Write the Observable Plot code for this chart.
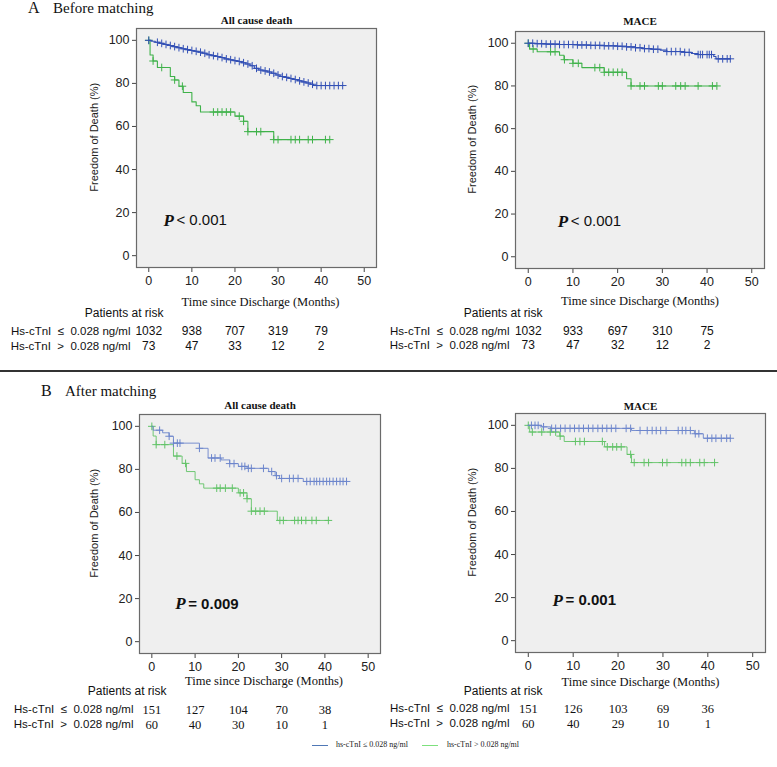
<!DOCTYPE html>
<html>
<head>
<meta charset="utf-8">
<script src="https://cdn.jsdelivr.net/npm/d3@7"></script>
<script src="https://cdn.jsdelivr.net/npm/@observablehq/plot@0.6"></script>
<style>
  body { margin: 0; background: #fff; }
  #root { position: relative; width: 777px; height: 767px; overflow: hidden; background: #fff; }
  .abs { position: absolute; }
  .hdr { font-family: 'Liberation Serif', 'Times New Roman', serif; font-size: 15px; line-height: 16px; color: #111; white-space: nowrap; }
  .leg { font-family: 'Liberation Serif', 'Times New Roman', serif; font-size: 8px; line-height: 10px; color: #222; white-space: nowrap; }
</style>
</head>
<body>
<div id="root"></div>
<script>
// ---------- tick labels ----------
const xTicks = [0, 10, 20, 30, 40, 50];
const yTicks = [0, 20, 40, 60, 80, 100];
const riskTimes = [0, 10, 20, 30, 40];
const groupLabels = ["Hs-cTnI  \u2264  0.028 ng/ml", "Hs-cTnI  >  0.028 ng/ml"];
const legendLabels = ["hs-cTnI \u2264 0.028 ng/ml", "hs-cTnI > 0.028 ng/ml"];
const panelTitles = ["All cause death", "MACE", "All cause death", "MACE"];
const sectionLabels = [["A", "Before matching"], ["B", "After matching"]];
const pValues = ["< 0.001", "< 0.001", "= 0.009", "= 0.001"];

// ---------- A: before matching, all cause death ----------
const aDeathLowT = [0,0.5,1.5,2.5,3.5,4.5,5.5,6.5,7.5,8.5,9.5,10.5,11.5,12.5,13.5,14.5,15.5,16.5,17.5,18.5,19.5,20.5,21.5,22.5,23.5,24.5,25.5,26.5,27.5,28.5,29.5,30.5,31.5,32.5,33.5,34.5,35.5,36.5,37.5,38.2,45.2];
const aDeathLowS = [100,99.6,99.1,98.6,98.1,97.6,97.1,96.6,96.1,95.7,95.3,94.9,94.5,94.0,93.3,92.9,92.5,92.0,91.4,91.0,90.6,90.2,89.6,89.0,88.2,87.0,86.2,85.8,85.3,84.7,83.9,83.2,82.8,82.3,81.8,81.2,80.7,80.2,79.6,79.0,79.0];
const aDeathLowC = [0,2,3,4,5,6,7,8,9,10,11,12,13,14,15,16,17,18,19,20,21,22,23,24,25,26,27,28,29,30,31,32,33,34,35,36,37,38,39,40,41,42,43,44,45];
const aDeathHighT = [0,0.3,1,2,5,6,7,8,10,11,12,20,22,23,29,42];
const aDeathHighS = [100,93.2,90.4,87.4,83.2,81.6,78.7,75.8,71.4,69.6,66.7,64.8,62.4,57.6,53.9,53.9];
const aDeathHighC = [0,1,3,6,7.8,15,16,17,18,19,21,22,23,25,26,29,30,33,34,35,37,38,41,42];

// ---------- A: before matching, MACE ----------
const aMaceLowT = [0,1.5,4,7,11,14,17,20,22,24,25.5,27.5,29.5,31,35,36.5,38,41.5,42,45.2];
const aMaceLowS = [100,99.8,99.6,99.4,99.2,99.0,98.8,98.6,98.3,97.9,97.5,97.2,96.8,96.1,95.7,95.2,94.7,93.8,92.7,92.7];
const aMaceLowC = [0,1,2,3,4,5,6,7,8,9,10,11,12,13,14,15,16,17,18,19,20,21,22,23,24,25,26,27,28,29,31,32,33,34,35,36,38,38.5,39,40,40.5,41,42.5,43.5,44.5,45.2];
const aMaceHighT = [0,0.3,2,7,8,10,12,17,22,23,42];
const aMaceHighS = [100,97.3,96.0,94.4,92.3,90.6,88.6,86.4,83.4,80.0,80.0];
const aMaceHighC = [0,1.1,5,6,8.1,10,11.2,14.9,16,17,18,19,20,21,23,25,26,29.1,30,33,34.1,35.1,38,41.2,42.2];

// ---------- B: after matching, all cause death ----------
const bDeathLowT = [0,0.3,2.5,4,5,11,13,16,18,20,22,27,28.5,29.5,35,45];
const bDeathLowS = [100,98.2,97.0,95.4,92.2,89.8,85.3,84.4,82.7,81.4,80.5,79.0,77.1,75.8,74.4,74.4];
const bDeathLowC = [1.8,4,5,5.9,6.5,11,13.8,14.6,15.8,18,19,20.8,21.5,22.3,23,25.8,27.7,28.8,30,31.8,32.7,33.8,35.8,36.6,37.5,38.1,38.8,39.6,40.4,41.1,41.9,42.7,43.5,44.2,45];
const bDeathHighT = [0,0.3,1,5,7,8,10,11,12,20,22,23,29,41];
const bDeathHighS = [100,95.5,91.5,86.2,82.8,79.0,75.2,73.3,71.3,69.1,66.4,60.6,56.3,56.3];
const bDeathHighC = [0,1,3,5.8,7.8,15,15.8,17,18.6,20.4,21.2,22,23,24,25,26,29.6,30.4,33,33.8,34.6,35.6,37,38,40.8];

// ---------- B: after matching, MACE ----------
const bMaceLowT = [0,3,5,23,37,39,45];
const bMaceLowS = [100,99.3,98.6,97.6,96.1,94.0,94.0];
const bMaceLowC = [0.7,1.5,2.2,3.4,5.2,6.1,7.2,8.2,9.3,10.3,11.3,12.3,13.4,14.4,15.5,16.5,17.5,18.5,19.5,21.8,22.8,24.9,26.5,27.6,28.5,29.5,30.7,33.4,34.3,35.1,36.1,37.2,38,39.9,40.9,41.8,43,44.2,45];
const bMaceHighT = [0,0.3,7,8,17,22,23,41];
const bMaceHighS = [100,96.9,95.0,92.5,90.0,86.5,82.7,82.7];
const bMaceHighC = [0,0.9,3,4.9,6.1,7.1,10.5,11.5,12.5,16.5,17.6,18.8,19.7,20.7,22.8,23.6,25.8,26.8,29.9,30.9,34.2,35.1,36.1,38.2,39.2,41.5];

// ---------- patients at risk ----------
const riskADeathLow = ["1032", "938", "707", "319", "79"];
const riskADeathHigh = ["73", "47", "33", "12", "2"];
const riskAMaceLow = ["1032", "933", "697", "310", "75"];
const riskAMaceHigh = ["73", "47", "32", "12", "2"];
const riskBDeathLow = ["151", "127", "104", "70", "38"];
const riskBDeathHigh = ["60", "40", "30", "10", "1"];
const riskBMaceLow = ["151", "126", "103", "69", "36"];
const riskBMaceHigh = ["60", "40", "29", "10", "1"];

// ---------- styling ----------
const SANS = "'Liberation Sans', Arial, sans-serif";
const SERIF = "'Liberation Serif', 'Times New Roman', serif";
const colA = ["#3350b5", "#3fb24a"];
const colB = ["#6d86cc", "#62c368"];
const colLegend = ["#4f78b6", "#7de07d"];

const root = document.getElementById("root");

function steps(ts, ss) { return ts.map((t, i) => ({t, s: ss[i]})); }
function censor(cs, ts, ss) {
  return cs.map(c => {
    const i = Math.max(0, d3.bisectRight(ts, c) - 1);
    return {t: c, s: ss[i]};
  });
}

function panel(o) {
  const lowSteps = steps(o.lowT, o.lowS), highSteps = steps(o.highT, o.highS);
  const lowC = censor(o.lowC, o.lowT, o.lowS), highC = censor(o.highC, o.highT, o.highS);
  const M = "middle";
  const chart = Plot.plot({
    width: o.w, height: o.h,
    marginTop: o.mt, marginLeft: o.ml, marginRight: o.mr, marginBottom: o.mb,
    x: {domain: [-2.85, 52.85]},
    y: {domain: [-5.5, 105.5]},
    style: {fontFamily: SANS, background: "transparent", overflow: "visible", color: "#222"},
    marks: [
      Plot.frame({fill: "#efefef", stroke: null}),
      Plot.axisX({ticks: xTicks, tickSize: 5, tickPadding: 4, fontSize: 12.5, label: null, stroke: "#444"}),
      Plot.axisY({ticks: yTicks, tickSize: 4, tickPadding: 3, fontSize: 12.5, label: null, stroke: "#444"}),
      Plot.line(highSteps, {x: "t", y: "s", curve: "step-after", stroke: o.col[1], strokeWidth: o.sw}),
      Plot.dot(highC, {x: "t", y: "s", symbol: "plus", r: 2.6, stroke: o.col[1], strokeWidth: 1}),
      Plot.line(lowSteps, {x: "t", y: "s", curve: "step-after", stroke: o.col[0], strokeWidth: o.sw}),
      Plot.dot(lowC, {x: "t", y: "s", symbol: "plus", r: 2.6, stroke: o.col[0], strokeWidth: 1}),
      Plot.frame({stroke: "#6a6a6a", strokeWidth: 1.2}),
      Plot.text([o.title], {frameAnchor: "top", lineAnchor: M, dy: o.titleDy, fontFamily: SERIF, fontWeight: "bold", fontSize: 11, fill: "#111"}),
      Plot.text(["Freedom of Death (%)"], {frameAnchor: "left", y: () => 55, textAnchor: M, lineAnchor: M, rotate: -90, dx: o.ylabDx, fontSize: 11, fill: "#222"}),
      Plot.text(["P"], {x: () => o.px, y: () => o.py, lineAnchor: M, fontFamily: SERIF, fontStyle: "italic", fontWeight: "bold", fontSize: 17, textAnchor: "start", fill: "#111"}),
      Plot.text([o.p], {x: () => o.px, y: () => o.py, lineAnchor: M, dx: 13, fontFamily: o.pFont, fontWeight: o.pWeight, fontSize: 15, textAnchor: "start", fill: "#111"}),
      Plot.text(["Time since Discharge (Months)"], {frameAnchor: "bottom", lineAnchor: M, dy: o.dyTime, dx: o.timeDx, fontFamily: SERIF, fontSize: 12.5, fill: "#111"}),
      Plot.text(["Patients at risk"], {frameAnchor: "bottom-left", lineAnchor: M, dy: o.dyPat, dx: 27, textAnchor: "end", fontSize: 12, fill: "#111"}),
      Plot.text([groupLabels[0]], {frameAnchor: "bottom-left", lineAnchor: M, dy: o.dyR1, dx: -6, textAnchor: "end", fontSize: 11.5, fill: "#111"}),
      Plot.text([groupLabels[1]], {frameAnchor: "bottom-left", lineAnchor: M, dy: o.dyR2, dx: -6, textAnchor: "end", fontSize: 11.5, fill: "#111"}),
      Plot.text(riskTimes, {x: d => d, text: (d, i) => o.riskLow[i], frameAnchor: "bottom", lineAnchor: M, dy: o.dyR1, fontFamily: o.numFont, fontSize: o.numSize, fill: "#111"}),
      Plot.text(riskTimes, {x: d => d, text: (d, i) => o.riskHigh[i], frameAnchor: "bottom", lineAnchor: M, dy: o.dyR2, fontFamily: o.numFont, fontSize: o.numSize, fill: "#111"})
    ]
  });
  chart.style.position = "absolute";
  chart.style.left = o.left + "px";
  chart.style.top = o.top + "px";
  chart.style.overflow = "visible";
  root.appendChild(chart);
}

panel({left: 0, top: 0, w: 390, h: 360, mt: 28, ml: 136, mr: 14, mb: 93,
  lowT: aDeathLowT, lowS: aDeathLowS, lowC: aDeathLowC, highT: aDeathHighT, highS: aDeathHighS, highC: aDeathHighC,
  col: colA, sw: 1.1, title: panelTitles[0], titleDy: -8, ylabDx: -42, p: pValues[0], px: 3.4, py: 16.3, pFont: SANS, pWeight: "normal",
  dyTime: 34, timeDx: 4, dyPat: 46, dyR1: 64, dyR2: 79, riskLow: riskADeathLow, riskHigh: riskADeathHigh, numFont: SANS, numSize: 12});
panel({left: 390, top: 0, w: 387, h: 360, mt: 31, ml: 125, mr: 13, mb: 92,
  lowT: aMaceLowT, lowS: aMaceLowS, lowC: aMaceLowC, highT: aMaceHighT, highS: aMaceHighS, highC: aMaceHighC,
  col: colA, sw: 1.1, title: panelTitles[1], titleDy: -10, ylabDx: -43, p: pValues[1], px: 6.6, py: 16.7, pFont: SANS, pWeight: "normal",
  dyTime: 32, timeDx: 0, dyPat: 45, dyR1: 63, dyR2: 77, riskLow: riskAMaceLow, riskHigh: riskAMaceHigh, numFont: SANS, numSize: 12});
panel({left: 0, top: 380, w: 390, h: 360, mt: 34, ml: 139, mr: 10, mb: 87,
  lowT: bDeathLowT, lowS: bDeathLowS, lowC: bDeathLowC, highT: bDeathHighT, highS: bDeathHighS, highC: bDeathHighC,
  col: colB, sw: 0.9, title: panelTitles[2], titleDy: -9, ylabDx: -45, p: pValues[2], px: 5.4, py: 17.5, pFont: SANS, pWeight: "bold",
  dyTime: 27, timeDx: 4, dyPat: 38, dyR1: 56, dyR2: 71, riskLow: riskBDeathLow, riskHigh: riskBDeathHigh, numFont: SERIF, numSize: 12.5});
panel({left: 390, top: 380, w: 387, h: 360, mt: 33, ml: 125, mr: 12, mb: 88,
  lowT: bMaceLowT, lowS: bMaceLowS, lowC: bMaceLowC, highT: bMaceHighT, highS: bMaceHighS, highC: bMaceHighC,
  col: colB, sw: 0.9, title: panelTitles[3], titleDy: -7, ylabDx: -43, p: pValues[3], px: 5.4, py: 18.6, pFont: SANS, pWeight: "bold",
  dyTime: 29, timeDx: 0, dyPat: 39, dyR1: 56, dyR2: 71, riskLow: riskBMaceLow, riskHigh: riskBMaceHigh, numFont: SERIF, numSize: 12.5});

// ---------- section headers ----------
function addText(cls, txt, x, y, extra) {
  const d = document.createElement("div");
  d.className = "abs " + cls;
  d.textContent = txt;
  d.style.left = x + "px";
  d.style.top = y + "px";
  if (extra) Object.assign(d.style, extra);
  root.appendChild(d);
}
addText("hdr", sectionLabels[0][0], 28, 0, {fontSize: "16px"});
addText("hdr", sectionLabels[0][1], 53, 0);
addText("hdr", sectionLabels[1][0], 41, 383, {fontSize: "16px"});
addText("hdr", sectionLabels[1][1], 65, 383);

// separator
const sep = document.createElement("div");
sep.className = "abs";
Object.assign(sep.style, {left: "0px", top: "370px", width: "777px", height: "1.5px", background: "#333"});
root.appendChild(sep);

// ---------- legend ----------
const legY = 745;
[[312, 336], [422, 447]].forEach(([lx, tx], i) => {
  const ln = document.createElement("div");
  ln.className = "abs";
  Object.assign(ln.style, {left: lx + "px", top: legY + "px", width: "16px", height: "1.2px", background: colLegend[i]});
  root.appendChild(ln);
  addText("leg", legendLabels[i], tx, legY - 5);
});
</script>
</body>
</html>
